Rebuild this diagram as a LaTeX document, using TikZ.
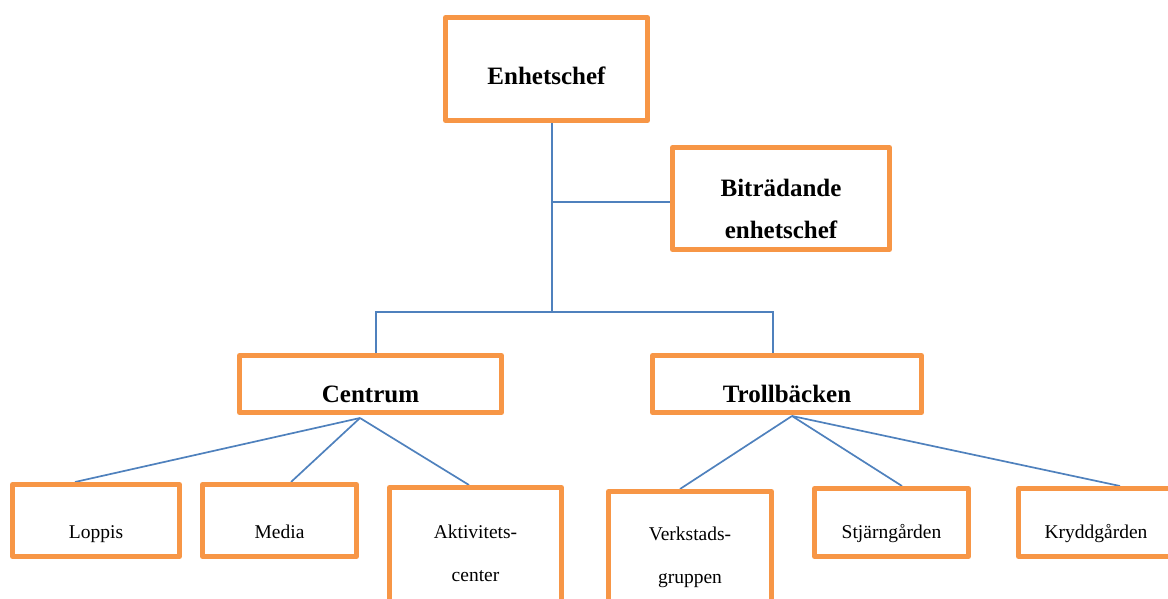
\documentclass[tikz,border=0pt]{standalone}
\usepackage{fontspec}
\setmainfont{Liberation Serif}
\usetikzlibrary{calc,backgrounds}
\definecolor{boxorange}{HTML}{F79646}
\definecolor{linkblue}{HTML}{4F81BD}
\begin{document}
\begin{tikzpicture}[x=1pt,y=-1pt,
  box/.style={draw=boxorange, line width=5pt, fill=white, rectangle, line join=round, inner sep=0pt},
  link/.style={draw=linkblue, line width=1.7pt},
  bigtxt/.style={font=\fontsize{25}{42}\selectfont\bfseries, anchor=base, align=center, inner sep=0pt},
  smalltxt/.style={font=\fontsize{19.5}{43}\selectfont, anchor=base, align=center, inner sep=0pt}]
\clip (0,0) rectangle (1168,598);
\useasboundingbox (0,0) rectangle (1168,598);
% boxes
\node[box, minimum width=202pt, minimum height=103pt] (ench) at (546.5,69) {};
\node[bigtxt] (enchT) at (546.5,84) {Enhetschef};
\node[box, minimum width=217pt, minimum height=102pt] (bitr) at (781,198.5) {};
\node[bigtxt] (bitrT) at (781,238) {Biträdande\\enhetschef};
\node[box, minimum width=262pt, minimum height=57pt] (cen) at (370.5,384) {};
\node[bigtxt] (cenT) at (370.5,402) {Centrum};
\node[box, minimum width=269pt, minimum height=57pt] (tro) at (787,384) {};
\node[bigtxt] (troT) at (787,402) {Trollbäcken};
\node[box, minimum width=167pt, minimum height=72pt] (lop) at (96,520.5) {};
\node[smalltxt] (lopT) at (96,538) {Loppis};
\node[box, minimum width=154pt, minimum height=72pt] (med) at (279.5,520.5) {};
\node[smalltxt] (medT) at (279.5,538) {Media};
\node[box, minimum width=172pt, minimum height=155pt] (akt) at (475.5,565) {};
\node[smalltxt] (aktT) at (475.5,581) {Aktivitets-\\center};
\node[box, minimum width=163pt, minimum height=151pt] (ver) at (690,567) {};
\node[smalltxt] (verT) at (690,583) {Verkstads-\\gruppen};
\node[box, minimum width=154pt, minimum height=68pt] (stj) at (891.5,522.5) {};
\node[smalltxt] (stjT) at (891.5,538) {Stjärngården};
\node[box, minimum width=155pt, minimum height=68pt] (kry) at (1096,522.5) {};
\node[smalltxt] (kryT) at (1096,538) {Kryddgården};
% connectors
\coordinate (j0) at (552,202);
\coordinate (j1) at (552,312);
\coordinate (cl) at (376,312);
\coordinate (tr) at (773,312);
\coordinate (cb) at (360,418);
\coordinate (tb) at (792,416);
\begin{scope}[on background layer]
\draw[link] (ench.south -| j1) -- (j1);
\draw[link] (j0) -- (bitr.west |- j0);
\draw[link] (cen.north -| cl) -- (cl) -- (tr) -- (tro.north -| tr);
\draw[link] (cb) -- ($(lop.north)+(-21,0)$);
\draw[link] (cb) -- ($(med.north)+(11.5,0)$);
\draw[link] (cb) -- ($(akt.north)+(-6.5,0)$);
\draw[link] (tb) -- ($(ver.north)+(-10,0)$);
\draw[link] (tb) -- ($(stj.north)+(10.5,0)$);
\draw[link] (tb) -- ($(kry.north)+(24,0)$);
\end{scope}
\end{tikzpicture}
\end{document}
